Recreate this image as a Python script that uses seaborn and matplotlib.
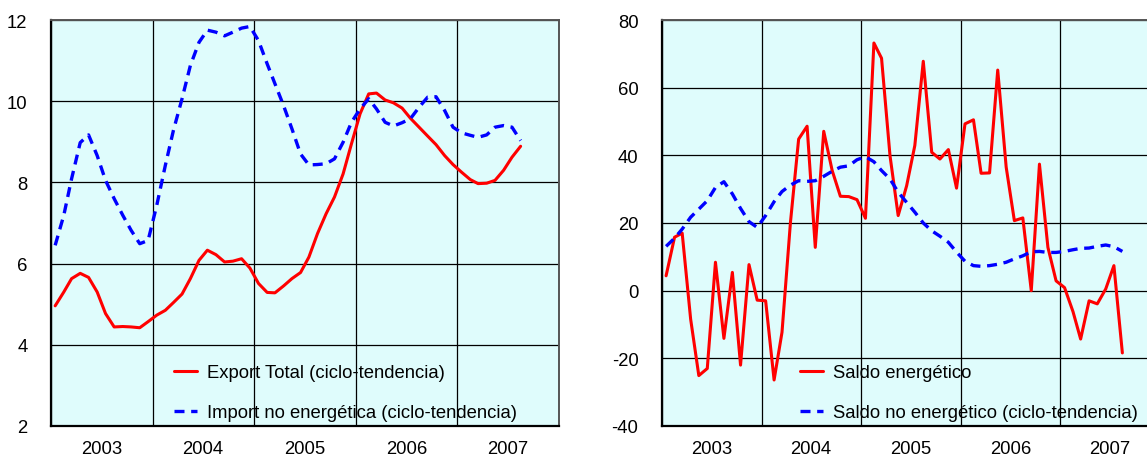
import pandas as pd
import matplotlib
matplotlib.use("Agg")
import matplotlib.pyplot as plt
import seaborn as sns

# ---- data (monthly, Jan 2003 - Aug 2007) ----
export_total = [4.96, 5.30, 5.63, 5.76, 5.66, 5.30, 4.77, 4.44, 4.45, 4.44, 4.42, 4.57,
                4.73, 4.85, 5.04, 5.25, 5.63, 6.08, 6.33, 6.22, 6.04, 6.06, 6.12, 5.89,
                5.51, 5.29, 5.28, 5.45, 5.63, 5.78, 6.16, 6.74, 7.23, 7.64, 8.21, 8.95,
                9.69, 10.18, 10.20, 10.03, 9.96, 9.83, 9.58, 9.36, 9.14, 8.93, 8.66, 8.44,
                8.25, 8.07, 7.97, 7.98, 8.05, 8.30, 8.62, 8.89]
import_no_energ = [6.45, 7.19, 8.09, 8.98, 9.17, 8.66, 8.05, 7.60, 7.19, 6.82, 6.49, 6.57,
                   7.43, 8.42, 9.28, 10.06, 10.88, 11.45, 11.75, 11.70, 11.61, 11.70, 11.80, 11.84,
                   11.49, 10.92, 10.43, 9.89, 9.32, 8.70, 8.43, 8.44, 8.46, 8.58, 8.99, 9.48,
                   9.81, 10.06, 9.81, 9.48, 9.39, 9.47, 9.57, 9.85, 10.10, 10.11, 9.77, 9.36,
                   9.22, 9.16, 9.11, 9.17, 9.36, 9.40, 9.36, 9.03]
saldo_energ = [4.4, 15.8, 17.0, -8.4, -25.1, -23.0, 8.4, -14.1, 5.4, -22.0, 7.7, -2.8,
               -3.0, -26.4, -12.3, 20.2, 44.8, 48.6, 12.8, 47.1, 35.5, 27.9, 27.8, 26.9,
               21.4, 73.2, 68.7, 39.9, 22.2, 31.0, 42.9, 67.8, 40.9, 38.9, 41.7, 30.3,
               49.3, 50.5, 34.7, 34.8, 65.2, 36.5, 20.7, 21.5, 0.0, 37.4, 12.8, 2.9,
               0.9, -6.2, -14.3, -3.0, -3.9, 0.5, 7.4, -18.4]
saldo_no_energ = [13.1, 15.5, 18.2, 21.7, 24.1, 26.6, 30.5, 32.2, 28.6, 24.3, 20.4, 18.7,
                  22.2, 26.3, 29.3, 31.2, 32.5, 32.3, 32.5, 33.8, 35.3, 36.5, 36.9, 38.7,
                  39.6, 38.1, 35.5, 33.0, 29.1, 26.1, 23.2, 20.0, 17.7, 16.1, 14.3, 11.4,
                  8.7, 7.4, 7.2, 7.4, 7.8, 8.4, 9.4, 10.3, 11.5, 11.6, 11.3, 11.3,
                  11.6, 12.1, 12.5, 12.6, 13.1, 13.5, 13.0, 11.6]
years = [2003, 2004, 2005, 2006, 2007]

fechas = pd.date_range("2003-01-01", periods=len(export_total), freq="MS") + pd.Timedelta(days=15)

sns.set_style("white")
plt.rcParams["font.family"] = ["Liberation Sans", "DejaVu Sans"]
plt.rcParams["text.color"] = "black"
plt.rcParams["xtick.color"] = "black"
plt.rcParams["ytick.color"] = "black"

BG = "#dffcfc"
FS = 13.3


def style_axes(ax, ylim, yticks):
    ax.set_facecolor(BG)
    ax.set_xlim(pd.Timestamp("2003-01-01"), pd.Timestamp("2008-01-01"))
    ax.set_ylim(*ylim)
    ax.set_yticks(yticks)
    ax.set_yticklabels([str(v) for v in yticks], fontsize=FS)
    # etiquetas de año en el centro, rejilla en el cambio de año
    ax.set_xticks([pd.Timestamp(f"{y}-07-01") for y in years])
    ax.set_xticklabels([str(y) for y in years], fontsize=FS)
    ax.set_xticks([pd.Timestamp(f"{y}-01-01") for y in years + [2008]], minor=True)
    ax.tick_params(axis="x", which="both", length=0, pad=10, colors="black")
    ax.tick_params(axis="y", length=8, width=1, color="black", pad=9)
    ax.grid(True, which="minor", axis="x", color="black", lw=0.9)
    ax.grid(True, which="major", axis="y", color="black", lw=0.9)
    ax.grid(False, which="major", axis="x")
    ax.set_axisbelow(True)
    for side in ["left", "bottom"]:
        ax.spines[side].set_color("black")
        ax.spines[side].set_linewidth(1.6)
    for side in ["top", "right"]:
        ax.spines[side].set_color("#555555")
        ax.spines[side].set_linewidth(1.4)
    ax.set_xlabel("")
    ax.set_ylabel("")


def leyenda(ax, x0):
    ax.legend(loc="lower left", bbox_to_anchor=(x0, 0.012), frameon=False,
              fontsize=FS, labelspacing=1.25, handlelength=1.25, handletextpad=0.55,
              borderpad=0, borderaxespad=0)


fig = plt.figure(figsize=(11.47, 4.6), dpi=100)
ax1 = fig.add_axes([51 / 1147, 1 - 427 / 460, 508 / 1147, 406 / 460])
ax2 = fig.add_axes([662 / 1147, 1 - 427 / 460, 498 / 1147, 406 / 460])

# panel izquierdo
sns.lineplot(x=fechas, y=export_total, ax=ax1, color="red", lw=2.2,
             label="Export Total (ciclo-tendencia)")
sns.lineplot(x=fechas, y=import_no_energ, ax=ax1, color="blue", lw=2.4,
             dashes=False, linestyle=(0, (3, 2)),
             label="Import no energética (ciclo-tendencia)")
style_axes(ax1, (2, 12), [2, 4, 6, 8, 10, 12])
leyenda(ax1, 0.242)

# panel derecho
sns.lineplot(x=fechas, y=saldo_energ, ax=ax2, color="red", lw=2.2,
             label="Saldo energético")
sns.lineplot(x=fechas, y=saldo_no_energ, ax=ax2, color="blue", lw=2.4,
             dashes=False, linestyle=(0, (3, 2)),
             label="Saldo no energético (ciclo-tendencia)")
style_axes(ax2, (-40, 80), [-40, -20, 0, 20, 40, 60, 80])
leyenda(ax2, 0.277)

fig.savefig("out.png", dpi=100)
